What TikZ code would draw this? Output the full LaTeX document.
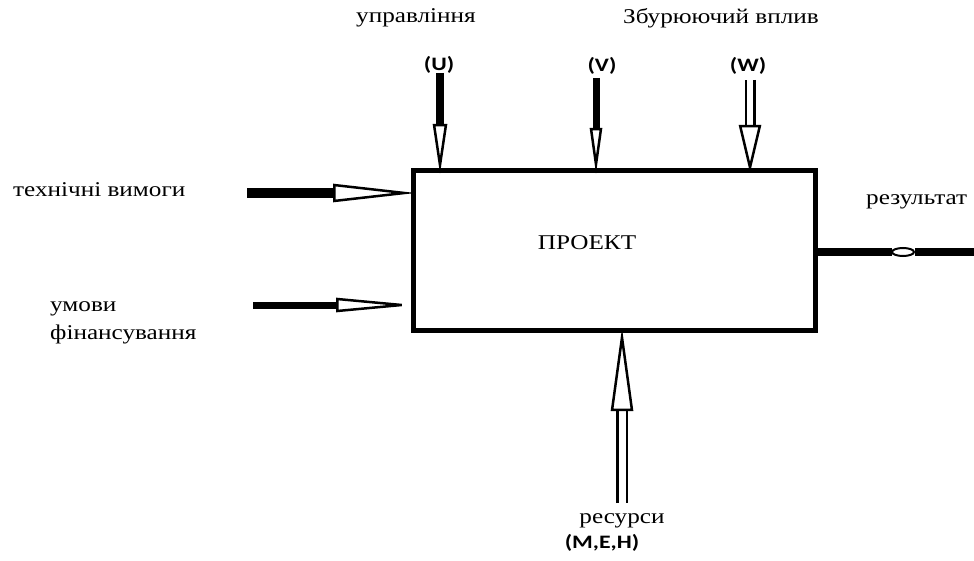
\documentclass[tikz,border=0pt]{standalone}
\usepackage{fontspec}
\setmainfont{Liberation Serif}[FakeStretch=1.2]
\newfontfamily\tagfont{Carlito}[FakeStretch=1.25]
\usetikzlibrary{positioning, arrows.meta}

\begin{document}
\begin{tikzpicture}[x=1pt, y=-1pt,
      lbl/.style={font=\fontsize{21}{28}\selectfont, inner sep=0pt},
      tag/.style={font=\tagfont\bfseries\fontsize{19}{21}\selectfont, inner sep=0pt},
      blk/.style={draw, line width=5pt, outer sep=0pt, minimum width=402pt, minimum height=159pt},
      feed/.style n args={3}{line width=#1, shorten >=-3pt, -{Triangle[open, length=#2 0 0, width=#3 0 0, line width=2.5pt 0 0]}},
      hollow/.style n args={3}{line width=2.5pt, double, double distance=#1, shorten >=-2pt, -{Triangle[open, length=#2 0 0, width=#3 0 0, line width=2.5pt 0 0]}}]
    \useasboundingbox (0,0) rectangle (974,561);
    \node[blk] (box) at (614,250.5) {};
    \node[lbl] (proj) at (587,243) {ПРОЕКТ};
    \node[lbl] (ctrl) at (416,18) {управління};
    \node[lbl] (dist) at (721,18) {Збурюючий вплив};
    \node[tag] (u) at (439,65) {(U)};
    \node[tag] (v) at (602,66) {(V)};
    \node[tag] (w) at (748,66) {(W)};
    \node[lbl, anchor=west] (tech) at (13,190) {технічні вимоги};
    \node[lbl, anchor=west, align=left] (fin) at (50,323) {умови\\фінансування};
    \node[lbl, anchor=west] (res) at (866,202) {результат};
    \node[lbl] (rsrc) at (622,521) {ресурси};
    \node[tag] (meh) at (602,543) {(M,E,H)};
    % free ends of the arrows
    \coordinate (u-tail) at (440,73);
    \coordinate (v-tail) at (596,78);
    \coordinate (w-tail) at (750,80);
    \coordinate (t-tail) at (247,193);
    \coordinate (f-tail) at (253,305);
    \coordinate (m-tail) at (622,503);
    \coordinate (r-oval) at (915,252);
    \coordinate (r-end) at (980,252);
    \draw[feed={8pt}{50pt}{14pt}] (u-tail) -- (u-tail |- box.north);
    \draw[feed={7pt}{46pt}{12pt}] (v-tail) -- (v-tail |- box.north);
    \draw[hollow={6pt}{48pt}{22pt}] (w-tail) -- (w-tail |- box.north);
    \draw[feed={10pt}{83pt}{18pt}] (t-tail) -- (t-tail -| box.west);
    \draw[feed={7pt}{80pt}{14pt}] (f-tail) -- (f-tail -| box.west);
    \draw[hollow={7pt}{83pt}{22pt}] (m-tail) -- (m-tail |- box.south);
    \draw[line width=8pt, -{Ellipse[open, length=24pt 0 0, width=10pt 0 0, line width=2pt 0 0]}] (r-oval -| box.east) -- (r-oval);
    \draw[line width=8pt] (r-oval) -- (r-end);
  \end{tikzpicture}
\end{document}
